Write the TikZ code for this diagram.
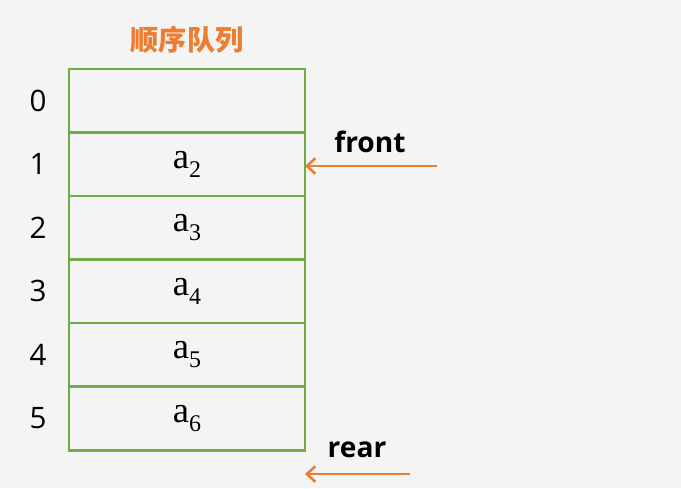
\documentclass[tikz,border=0pt]{standalone}
\usepackage{fontspec}
\setmainfont{Liberation Serif}
\setsansfont{Open Sans}
\newfontfamily\cjk{Noto Sans CJK SC}
\usetikzlibrary{arrows.meta,positioning}
\definecolor{qgreen}{HTML}{70AD47}
\definecolor{qorange}{HTML}{ED7D31}
\definecolor{bggray}{HTML}{F4F4F4}
\newcommand{\elem}[1]{a\raisebox{-0.55ex}{\fontsize{17}{17}\selectfont #1}}

\begin{document}
\begin{tikzpicture}[x=0.025cm, y=-0.025cm,
      slot/.style={draw=qgreen, line width=2pt, minimum width=5.9cm, minimum height=1.5875cm,
        inner sep=0pt, outer sep=0pt, font=\fontsize{26}{28}\selectfont},
      idx/.style={font=\sffamily\fontsize{21}{23}\selectfont},
      pointer/.style={font=\sffamily\bfseries\fontsize{20}{22}\selectfont},
      arrow/.style={-{Straight Barb[length=6pt,width=11pt]}, line width=1.8pt, qorange},
      title/.style={font=\cjk\bfseries\fontsize{20}{22}\selectfont, text=qorange}
    ]
      % background
      \fill[bggray] (0,0) rectangle (681,488);

      % Title
      \node[title] (title) at (187,40) {顺序队列};

      % Queue slots
      \node[slot] (s0) at (187,100.75) {};
      \node[slot, below=0pt of s0] (s1) {\elem{2}};
      \node[slot, below=0pt of s1] (s2) {\elem{3}};
      \node[slot, below=0pt of s2] (s3) {\elem{4}};
      \node[slot, below=0pt of s3] (s4) {\elem{5}};
      \node[slot, below=0pt of s4] (s5) {\elem{6}};

      % Indices
      \node[idx] (n0) at ([xshift=-3.725cm]s0.center) {0};
      \node[idx] (n1) at ([xshift=-3.725cm]s1.center) {1};
      \node[idx] (n2) at ([xshift=-3.725cm]s2.center) {2};
      \node[idx] (n3) at ([xshift=-3.725cm]s3.center) {3};
      \node[idx] (n4) at ([xshift=-3.725cm]s4.center) {4};
      \node[idx] (n5) at ([xshift=-3.725cm]s5.center) {5};

      % Pointers
      \node[pointer] (front) at (370,142) {front};
      \coordinate (fronttail) at (437,166);
      \draw[arrow] (fronttail) -- (s1.east |- fronttail);

      \node[pointer] (rear) at (357,450) {rear};
      \coordinate (reartail) at (410,474);
      \coordinate (rearhead) at (305,474);
      \draw[arrow] (reartail) -- (rearhead);
    \end{tikzpicture}
\end{document}
